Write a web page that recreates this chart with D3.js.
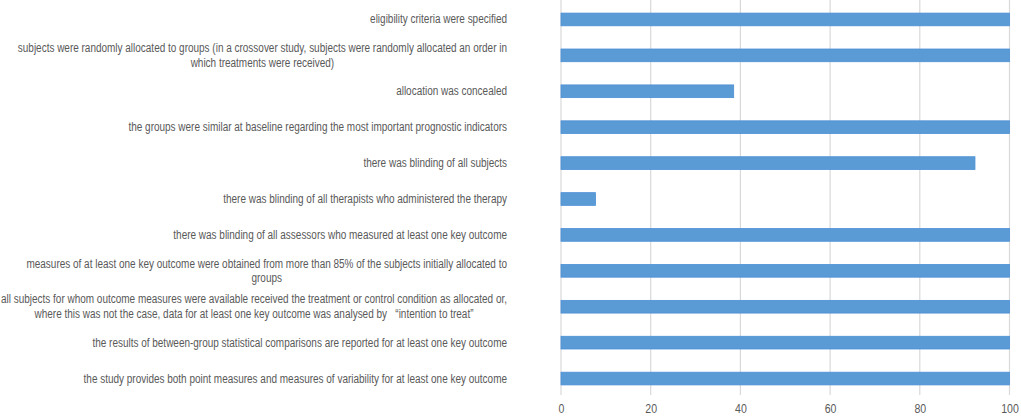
<!DOCTYPE html>
<html><head><meta charset="utf-8">
<script src="https://cdn.jsdelivr.net/npm/d3@7"></script>
<style>
body{margin:0;background:#fff;}
text{font-family:"Liberation Sans",Arial,sans-serif;}
</style></head>
<body><svg id="c" width="1021" height="417"></svg>
<script>
const categories = [
  "eligibility criteria were specified",
  "subjects were randomly allocated to groups (in a crossover study, subjects were randomly allocated an order in\nwhich treatments were received)",
  "allocation was concealed",
  "the groups were similar at baseline regarding the most important prognostic indicators",
  "there was blinding of all subjects",
  "there was blinding of all therapists who administered the therapy",
  "there was blinding of all assessors who measured at least one key outcome",
  "measures of at least one key outcome were obtained from more than 85% of the subjects initially allocated to\ngroups",
  "all subjects for whom outcome measures were available received the treatment or control condition as allocated or,\nwhere this was not the case, data for at least one key outcome was analysed by \u00A0\u00A0\u201Cintention to treat\u201D",
  "the results of between-group statistical comparisons are reported for at least one key outcome",
  "the study provides both point measures and measures of variability for at least one key outcome"
];
const values = [100, 100, 38.5, 100, 92.3, 7.7, 100, 100, 100, 100, 100];
const xTicks = [0, 20, 40, 60, 80, 100];

const svg = d3.select("#c");
const x = d3.scaleLinear().domain([0, 100]).range([561, 1009.5]);
const y = d3.scaleBand().domain(categories).range([1.5, 396.5]).paddingInner(0.646).paddingOuter(0.323);

// gridlines
svg.append("g").selectAll("line").data(xTicks).join("line")
  .attr("x1", d => x(d)).attr("x2", d => x(d))
  .attr("y1", 0).attr("y2", 395)
  .attr("stroke", "#d9d9d9").attr("stroke-width", 1.2);

// bars
svg.append("g").selectAll("rect").data(values).join("rect")
  .attr("x", x(0))
  .attr("y", (d, i) => y(categories[i]))
  .attr("width", d => x(d) - x(0))
  .attr("height", y.bandwidth())
  .attr("fill", "#5b9bd5").attr("stroke", "#4b8fd6").attr("stroke-width", 0.8);

// x tick labels
const xAxis = d3.axisBottom(x).tickValues(xTicks).tickSize(0).tickPadding(0);
const gx = svg.append("g").attr("transform", "translate(0,404)").call(xAxis);
gx.select(".domain").remove();
gx.selectAll("text").attr("font-size", 12).attr("fill", "#595959")
  .style("font-family", '"Liberation Sans",Arial,sans-serif')
  .attr("textLength", function(){ return this.getComputedTextLength()*0.88; })
  .attr("lengthAdjust", "spacingAndGlyphs");

// category labels
const right = 507, lh = 14.5, leftEdge = 1;
const gl = svg.append("g");
const all = [];
categories.forEach((c, i) => {
  const lines = c.split("\n");
  const cy = y(c) + y.bandwidth() / 2;
  const texts = lines.map((ln, k) => {
    const t = gl.append("text").attr("font-size", 12).attr("fill", "#595959")
      .attr("dominant-baseline", "central")
      .attr("y", cy + (k - (lines.length - 1) / 2) * lh)
      .text(ln);
    return {t, w: t.node().getComputedTextLength()};
  });
  all.push(texts);
});
const maxW = d3.max(all.flat(), d => d.w);
const r = (right - leftEdge) / maxW;
all.forEach(texts => {
  texts.forEach(d => d.t.attr("textLength", d.w * r).attr("lengthAdjust", "spacingAndGlyphs"));
  const bw = d3.max(texts, d => d.w * r);
  texts.forEach(d => {
    if (texts.length === 1) d.t.attr("x", right).attr("text-anchor", "end");
    else d.t.attr("x", right - bw / 2).attr("text-anchor", "middle");
  });
});
</script></body></html>
